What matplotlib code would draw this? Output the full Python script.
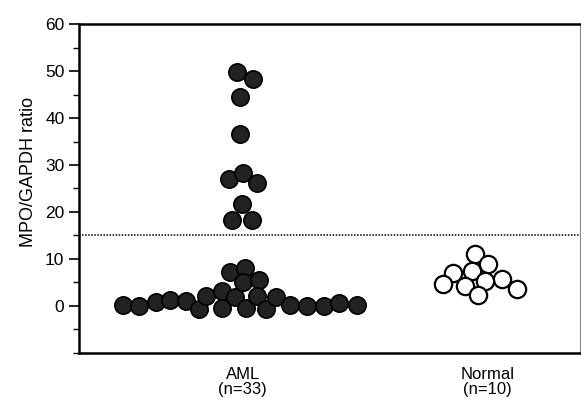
import numpy as np
import matplotlib
matplotlib.use("Agg")
import matplotlib.pyplot as plt
from matplotlib.ticker import MultipleLocator

# ==========================================
# DATA
# ==========================================
groups = ["AML", "Normal"]
group_labels = ["AML\n(n=33)", "Normal\n(n=10)"]
group_pos = [1, 2]

# AML: x offset from group centre, MPO/GAPDH ratio
aml_dx = [-0.024, 0.041, -0.012, -0.012, -0.057, 0.0, 0.057, -0.004, -0.045, 0.037,
          -0.490, -0.424, -0.355, -0.298, -0.233, -0.180, -0.151, -0.086, -0.086,
          -0.053, -0.033, 0.008, 0.012, 0.0, 0.065, 0.057, 0.094, 0.135, 0.192,
          0.261, 0.331, 0.392, 0.465]
aml_ratio = [49.8, 48.3, 44.4, 36.5, 27.1, 28.3, 26.1, 21.6, 18.2, 18.2,
             0.2, 0.0, 0.9, 1.2, 1.1, -0.7, 2.1, -0.4, 3.2,
             7.2, 1.8, 8.0, -0.5, 5.0, 5.5, 2.2, -0.7, 1.8, 0.2,
             0.0, 0.0, 0.7, 0.2]

# Normal
normal_dx = [-0.053, 0.0, -0.143, -0.065, 0.057, -0.012, -0.184, -0.094, 0.118, -0.041]
normal_ratio = [11.0, 8.9, 7.0, 7.5, 5.8, 5.3, 4.6, 4.3, 3.6, 2.3]

cutoff = 15

# ==========================================
# PLOT
# ==========================================
plt.rcParams["font.family"] = ["Liberation Sans", "DejaVu Sans"]

fig = plt.figure(figsize=(5.81, 4.08), dpi=100)
ax = fig.add_axes([0.136, 0.135, 0.862, 0.806])

ax.axhline(cutoff, color="black", linestyle=(0, (1, 1)), linewidth=1.1, zorder=1)

ax.scatter(group_pos[0] + np.array(aml_dx), aml_ratio, s=155,
           facecolor="#222222", edgecolor="black", linewidth=1.2, zorder=3)
ax.scatter(group_pos[1] + np.array(normal_dx), normal_ratio, s=155,
           facecolor="white", edgecolor="black", linewidth=1.6, zorder=3)

ax.set_xlim(0.331, 2.376)
ax.set_ylim(-10, 60)

ax.set_xticks(group_pos)
ax.set_xticklabels(group_labels, fontsize=12, linespacing=1.05)
ax.tick_params(axis="x", length=0, pad=10)

ax.set_yticks([0, 10, 20, 30, 40, 50, 60])
ax.yaxis.set_minor_locator(MultipleLocator(5))
ax.tick_params(axis="y", which="major", length=7, width=1.2, labelsize=12.5, direction="out")
ax.tick_params(axis="y", which="minor", length=4, width=1.0, direction="out")
ax.set_ylabel("MPO/GAPDH ratio", fontsize=13)
ax.yaxis.set_label_coords(-0.083, 0.55)

for side in ["left", "bottom", "top"]:
    ax.spines[side].set_linewidth(1.8)
ax.spines["right"].set_linewidth(0.8)
ax.spines["right"].set_color("#888888")

fig.savefig("out.png", dpi=100)
